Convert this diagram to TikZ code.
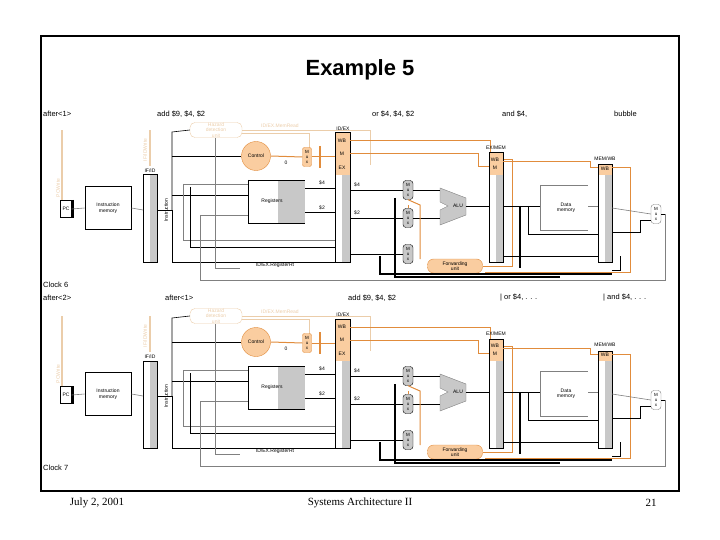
\documentclass[tikz,border=0pt]{standalone}
\usepackage{fontspec}
\setmainfont{Liberation Serif}
\newfontfamily\sans{Liberation Sans}
\usetikzlibrary{shapes.geometric,arrows.meta}
\definecolor{org}{RGB}{225,140,60}
\definecolor{porg}{RGB}{250,205,160}
\definecolor{lorg}{RGB}{235,205,170}
\definecolor{gfill}{RGB}{200,200,200}
\tikzset{
 lbl/.style={font=\sans\fontsize{7.5}{8}\selectfont,anchor=west,inner sep=0},
 tiny/.style={font=\sans\fontsize{5}{5.5}\selectfont,inner sep=0},
 box/.style={draw=black,line width=1pt,inner sep=0},
 mux/.style={draw=black,fill=gfill,rounded corners=3pt,minimum width=10pt,minimum height=19pt,inner sep=0,align=center,font=\sans\fontsize{4.5}{5}\selectfont},
 reg/.style={draw=black,line width=1pt,inner sep=0},
 w/.style={line width=0.6pt},
 wt/.style={line width=1.2pt},
 wo/.style={draw=org,line width=1pt},
 wl/.style={draw=lorg,line width=0.6pt},
 wg/.style={draw=gray,line width=0.6pt},
}
\newcommand\mydp[1]{%
 \node[draw=black,minimum width=11pt,minimum height=17pt,inner sep=0,tiny] (pc#1) at (66,209) {PC};
 \draw[line width=2pt] (73,200) -- (73,218);
 \node[box,minimum width=46pt,minimum height=43pt,tiny,align=center] (im#1) at (108,208) {Instruction\\memory};
 \draw[wg] (pc#1.east) -- (im#1.west);
 \draw[wl,line width=1.5pt] (62,200) -- (62,130);
 \node[tiny,rotate=90,text=lorg] (pcw#1) at (58,188) {PCWrite};
 \fill[gfill] (150,175.5) rectangle (156.5,261.5);
 \draw[line width=1pt] (143,175) rectangle (157,262);
 \coordinate (ifid#1) at (143,210);
 \coordinate (ifidr#1) at (157,210);
 \node[tiny] (ifidl#1) at (150,171) {IF/ID};
 \draw[wl,line width=1.5pt] (150,166) -- (150,130);
 \node[tiny,rotate=90,text=lorg] (ifw#1) at (145,150) {IF/IDWrite};
 \draw[wg] (im#1.east) -- (ifid#1);
 \node[tiny,rotate=90] (instr#1) at (166,210) {Instruction};
 \node[draw=lorg,rounded corners=5pt,minimum width=52pt,minimum height=15pt,tiny,text=lorg,align=center] (hz#1) at (216,130) {Hazard\\detection\\unit};
 \node[tiny,text=lorg] (idm#1) at (280,126) {ID/EX.MemRead};
 \draw[wl] (hz#1.east) -- (370,130) -- (370,165);
 \draw[wl] (242,133) -- (309,133) -- (309,148);
 \node[circle,draw=org,fill=porg,minimum size=29pt,inner sep=0,tiny] (ct#1) at (256,156) {Control};
 \node[draw=org,fill=porg,rounded corners=2pt,minimum width=9pt,minimum height=19pt,inner sep=0,font=\sans\fontsize{4.5}{5}\selectfont,align=center] (cm#1) at (307,157) {M\\u\\x};
 \draw[wo] (ct#1.east) -- (cm#1.west);
 \draw[line width=2pt,draw=org] (320,146) -- (320,168);
 \node[tiny] (zero#1) at (286,163) {0};
 \fill[porg] (335,133) rectangle (350,175);
 \fill[gfill] (342,175) rectangle (350,262);
 \draw[line width=1pt] (335,133) rectangle (350,262);
 \node[tiny] (idex#1) at (343,129) {ID/EX};
 \node[tiny] (wb1#1) at (342,141) {WB};
 \node[tiny] (m1#1) at (342,154) {M};
 \node[tiny] (ex1#1) at (342,168) {EX};
 \draw[wo] (cm#1.east) -- (335,157);
 \draw[wo] (350,141) -- (490,141) -- (490,160);
 \draw[wo] (350,154) -- (478,154) -- (478,167) -- (489,167);
 \fill[gfill] (278,180) rectangle (305,223);
 \draw (248,180) -- (305,180) (248,180) -- (248,223) (248,223) -- (305,223);
 \node[tiny] (rg#1) at (272,201) {Registers};
 \draw[w] (305,188) -- (335,188);
 \draw[w] (305,212) -- (335,212);
 \node[tiny] (r1#1) at (322,183) {\$4};
 \node[tiny] (r2#1) at (322,208) {\$2};
 \draw[w] (ifidr#1) -- (172,210) -- (172,262) -- (335,262);
 \draw[w] (172,156) -- (ct#1.west);
 \draw[w] (172,210) -- (172,132) -- (hz#1.west);
 \draw[wg] (183,184) -- (248,184);
 \draw[w] (172,195) -- (248,195);
 \draw[wg] (183,184) -- (183,240) -- (335,240);
 \draw[w] (190,187) -- (190,247) -- (335,247);
 \draw[wg] (200,215) -- (248,215);
 \draw[wg] (200,215) -- (200,280) -- (665,280) -- (665,214);
 \draw[wg] (215,138) -- (215,268) -- (240,268);
 \node[tiny] (idreg#1) at (275,265) {ID/EX.RegisterRt};
 \node[mux] (mx1#1) at (408,190) {M\\u\\x};
 \node[mux] (mx2#1) at (408,218) {M\\u\\x};
 \node[mux] (mx3#1) at (408,254) {M\\u\\x};
 \draw[w] (350,190) -- (mx1#1.west);
 \draw[w] (350,218) -- (mx2#1.west);
 \draw[w] (350,254) -- (mx3#1.west);
 \node[tiny] (r3#1) at (357,185) {\$4};
 \node[tiny] (r4#1) at (357,213) {\$2};
 \draw[draw=gray,fill=gfill] (440,188) -- (466,198) -- (466,215) -- (440,225) -- (440,210) -- (448,206) -- (440,202) -- cycle;
 \node[tiny] (alu#1) at (458,206) {ALU};
 \draw[w] (mx1#1.east) -- (440,190);
 \draw[w] (mx2#1.east) -- (440,218);
 \draw[w] (466,206) -- (489,206);
 \node[draw=org,fill=porg,rounded corners=6pt,minimum width=55pt,minimum height=14pt,tiny,align=center] (fw#1) at (455,266) {Forwarding\\unit};
 \draw[wo] (420,259) -- (420,205) -- (mx1#1.south);
 \draw[wo] (mx2#1.north) -- (408,205);
 \draw[wo] (fw#1.east) -- (512,266) -- (512,160) -- (503,160);
 \fill[porg] (489,153) rectangle (503,175);
 \fill[gfill] (496,175) rectangle (503,262);
 \draw[line width=1pt] (489,153) rectangle (503,262);
 \node[tiny] (exmem#1) at (496,148) {EX/MEM};
 \node[tiny] (wb2#1) at (495,160) {WB};
 \node[tiny] (m2#1) at (495,168) {M};
 \draw[wo] (503,162) -- (590,162) -- (590,168) -- (598,168);
 \draw[draw=gray] (540,185) -- (588,185) (540,185) -- (540,230) (540,230) -- (588,230);
 \node[tiny,align=center] (dm#1) at (566,208) {Data\\memory};
 \draw[w] (503,206) -- (540,206);
 \draw[wg] (588,206) -- (598,206);
 \draw[w] (528,206) -- (528,234) -- (598,234);
 \draw[wt] (520,206) -- (520,268);
 \draw[w] (503,256) -- (598,256);
 \fill[porg] (598,165) rectangle (612,175);
 \fill[gfill] (605,175) rectangle (612,262);
 \draw[line width=1pt] (598,165) rectangle (612,262);
 \node[tiny] (memwb#1) at (605,159) {MEM/WB};
 \node[tiny] (wb3#1) at (605,169) {WB};
 \draw[wo] (612,168) -- (630,168) -- (630,272) -- (485,272);
 \node[mux,fill=white,draw=gray] (mx4#1) at (656,214) {M\\u\\x};
 \draw[wg] (612,208) -- (mx4#1.west);
 \draw[w] (612,232) -- (640,232) -- (640,220) -- (651,220);
 \draw[w] (mx4#1.east) -- (665,214);
 \draw[wt] (380,256) -- (380,274) -- (612,274);
 \draw[wt] (395,198) -- (395,277) -- (560,277);
 \draw[w] (620,256) -- (620,270) -- (612,270);
}
\begin{document}
\begin{tikzpicture}[x=1pt,y=-1pt]
\useasboundingbox (0,0) rectangle (720,540);
\draw[line width=1.5pt] (41,36) rectangle (679,491);
\node[font=\sans\bfseries\fontsize{22}{26}\selectfont] (title) at (360,70) {Example 5};
\node[font=\fontsize{11}{13}\selectfont] (date) at (97,503) {July 2, 2001};
\node[font=\fontsize{11}{13}\selectfont] (sa) at (360,503) {Systems Architecture II};
\node[font=\fontsize{11}{13}\selectfont] (pg) at (651,503) {21};
\begin{scope}
 \mydp{a}
 \node[lbl] (t1) at (43,114) {after<1>};
 \node[lbl] (t2) at (157,114) {add \$9, \$4, \$2};
 \node[lbl] (t3) at (372,114) {or \$4, \$4, \$2};
 \node[lbl] (t4) at (502,114) {and \$4,};
 \node[lbl] (t5) at (614,114) {bubble};
 \node[lbl] (t6) at (43,285) {Clock 6};
\end{scope}
\begin{scope}[shift={(0,186)}]
 \mydp{b}
 \node[lbl] (u1) at (43,112) {after<2>};
 \node[lbl] (u2) at (165,112) {after<1>};
 \node[lbl] (u3) at (348,112) {add \$9, \$4, \$2};
 \node[lbl] (u4) at (500,112) {| or \$4, . . .};
 \node[lbl] (u5) at (603,112) {| and \$4, . . .};
 \node[lbl] (u6) at (43,282) {Clock 7};
\end{scope}
\end{tikzpicture}
\end{document}
